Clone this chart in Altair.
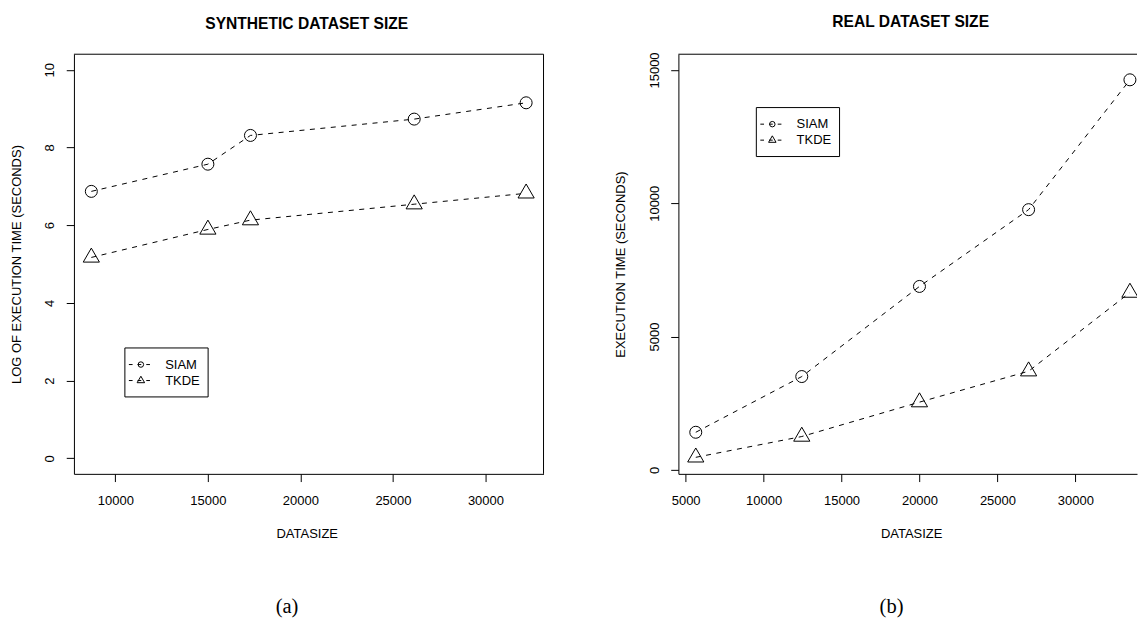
import altair as alt
import pandas as pd

# ---- data -------------------------------------------------------------
SERIES = ["SIAM", "TKDE"]

SYN_SIZE = [8700, 15000, 17300, 26150, 32200]
SYN_SIAM = [6.87, 7.57, 8.31, 8.73, 9.15]
SYN_TKDE = [5.17, 5.89, 6.13, 6.54, 6.82]

REAL_SIZE = [5650, 12450, 20000, 27000, 33500]
REAL_SIAM = [1410, 3500, 6880, 9760, 14630]
REAL_TKDE = [470, 1250, 2540, 3700, 6650]

SYN_XTICKS = [10000, 15000, 20000, 25000, 30000]
SYN_YTICKS = [0, 2, 4, 6, 8, 10]
REAL_XTICKS = [5000, 10000, 15000, 20000, 25000, 30000]
REAL_YTICKS = [0, 5000, 10000, 15000]

TITLES = ["SYNTHETIC DATASET SIZE", "REAL DATASET SIZE"]
Y_TITLES = ["LOG OF EXECUTION TIME (SECONDS)", "EXECUTION TIME (SECONDS)"]
X_TITLE = "DATASIZE"
CAPTIONS = ["(a)", "(b)"]

# ---- style ------------------------------------------------------------
SANS = "Liberation Sans"
SERIF = "Liberation Serif"
# upward triangle centred on its centroid
TRIANGLE = "M0,-1.1547L1,0.5774L-1,0.5774Z"
MARKERS = {"SIAM": ("circle", 144, 30), "TKDE": (TRIANGLE, 262, 56)}
DASH = [5, 5.5]
H = 420
FS = 13


def table(sizes, siam, tkde):
    return pd.DataFrame({
        "size": sizes + sizes,
        "time": siam + tkde,
        "series": [SERIES[0]] * len(sizes) + [SERIES[1]] * len(sizes),
    })


def one_row(name):
    return pd.DataFrame({"series": [name]})


def legend(x0, y0):
    w, h = 83.3, 49
    layers = [
        alt.Chart(one_row(SERIES[0])).mark_rect(
            fillOpacity=0, stroke="black", strokeWidth=1
        ).encode(
            x=alt.value(x0), x2=alt.value(x0 + w),
            y=alt.value(y0), y2=alt.value(y0 + h),
        )
    ]
    for i, name in enumerate(SERIES):
        yy = y0 + 16.6 + 16 * i
        shape, _, small = MARKERS[name]
        row = one_row(name)
        layers.append(
            alt.Chart(row).mark_rule(
                color="black", strokeWidth=1, strokeDash=[3.7, 5]
            ).encode(x=alt.value(x0 + 4), x2=alt.value(x0 + 26), y=alt.value(yy))
        )
        layers.append(
            alt.Chart(row).mark_point(
                shape=shape, size=small, filled=False, color="black",
                strokeWidth=1, opacity=1
            ).encode(x=alt.value(x0 + 16), y=alt.value(yy))
        )
        layers.append(
            alt.Chart(row).mark_text(
                font=SANS, fontSize=FS, color="black", align="left",
                baseline="middle"
            ).encode(x=alt.value(x0 + 40.3), y=alt.value(yy), text="series:N")
        )
    return layers


def panel(df, width, xdomain, ydomain, xticks, yticks, idx, legend_xy,
          title_dx, right_edge):
    x = alt.X(
        "size:Q",
        scale=alt.Scale(domain=xdomain, nice=False, zero=False),
        axis=alt.Axis(
            values=xticks, title=X_TITLE, format="d", grid=False,
            domain=True, domainColor="black", domainWidth=1,
            tickColor="black", tickSize=7.7, tickWidth=1,
            labelFont=SANS, labelFontSize=FS, labelColor="black",
            labelPadding=23, labelBaseline="alphabetic", labelAngle=0,
            labelAlign="center", labelFlush=False, labelOverlap=False,
            titleFont=SANS, titleFontSize=FS, titleFontWeight="normal",
            titleColor="black", titleX=233, titleY=63.4,
            titleBaseline="alphabetic", titleAlign="center",
        ),
    )
    y = alt.Y(
        "time:Q",
        scale=alt.Scale(domain=ydomain, nice=False, zero=False),
        axis=alt.Axis(
            values=yticks, title=Y_TITLES[idx], format="d", grid=False,
            domain=True, domainColor="black", domainWidth=1,
            tickColor="black", tickSize=7.7, tickWidth=1,
            labelFont=SANS, labelFontSize=FS, labelColor="black",
            labelPadding=12.3, labelBaseline="alphabetic", labelAngle=270,
            labelAlign="center", labelFlush=False, labelOverlap=False,
            titleFont=SANS, titleFontSize=FS, titleFontWeight="normal",
            titleColor="black", titleAngle=270, titleX=-53.5, titleY=H / 2,
            titleBaseline="alphabetic", titleAlign="center",
        ),
    )
    base = alt.Chart(df)
    layers = [
        base.mark_line(
            color="black", strokeWidth=1, strokeDash=DASH, clip=True
        ).encode(x=x, y=y, detail="series:N")
    ]
    for name in SERIES:
        shape, size, _ = MARKERS[name]
        layers.append(
            base.transform_filter(alt.datum.series == name).mark_point(
                shape=shape, size=size, filled=False, color="black",
                strokeWidth=1, opacity=1, clip=True
            ).encode(x=x, y=y)
        )
    # frame edges not covered by the axis lines
    frame = one_row(SERIES[0])
    layers.append(
        alt.Chart(frame).mark_rule(color="black", strokeWidth=1).encode(
            x=alt.value(0), x2=alt.value(width), y=alt.value(0)
        )
    )
    if right_edge:
        layers.append(
            alt.Chart(frame).mark_rule(color="black", strokeWidth=1).encode(
                x=alt.value(width), y=alt.value(0), y2=alt.value(H)
            )
        )
    layers += legend(*legend_xy)
    layers.append(
        alt.Chart(pd.DataFrame({"caption": [CAPTIONS[idx]]})).mark_text(
            font=SERIF, fontSize=20.5, color="black", align="center",
            baseline="alphabetic"
        ).encode(x=alt.value(213.3), y=alt.value(559), text="caption:N")
    )
    return alt.layer(*layers).properties(
        width=width,
        height=H,
        title=alt.TitleParams(
            text=TITLES[idx], font=SANS, fontSize=15.6, fontWeight="bold",
            color="black", anchor="middle", frame="group",
            baseline="alphabetic", offset=9.6, dx=title_dx,
        ),
    )


left = panel(
    table(SYN_SIZE, SYN_SIAM, SYN_TKDE), 470, [7760, 33140], [-0.4, 10.4],
    SYN_XTICKS, SYN_YTICKS, 0, (51, 294), -2, True,
)
right = panel(
    table(REAL_SIZE, REAL_SIAM, REAL_TKDE), 459, [4536, 33954], [-150, 15590],
    REAL_XTICKS, REAL_YTICKS, 1, (78, 53.4), 3, False,
)

chart = (
    alt.hconcat(left, right, spacing=135, bounds="flush")
    .configure_view(strokeWidth=0)
    .properties(padding={"left": 10, "top": 14, "right": 0, "bottom": 0},
                background="white")
)

chart.save("out.html", embed_options={"renderer": "svg", "actions": False})
